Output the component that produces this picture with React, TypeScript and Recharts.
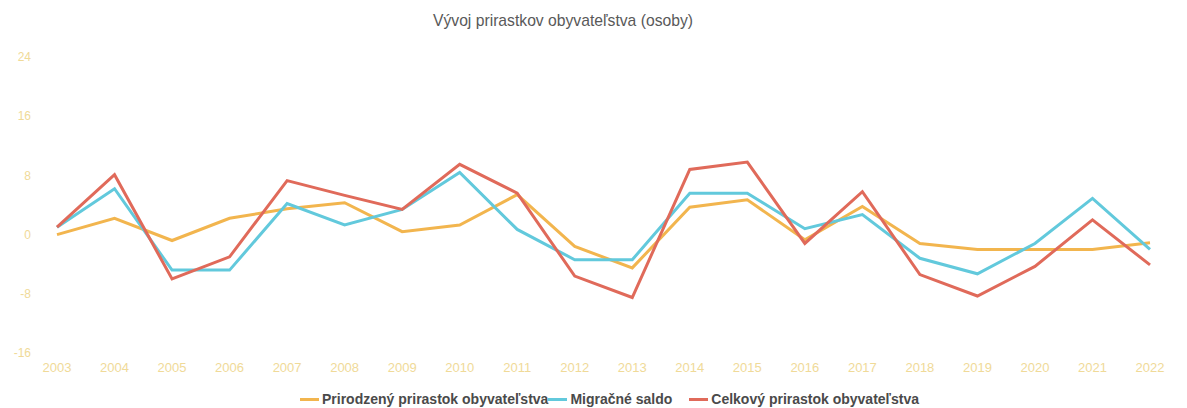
import React from 'react';
import { LineChart, Line, XAxis, YAxis } from 'recharts';

const years = [
  '2003', '2004', '2005', '2006', '2007', '2008', '2009', '2010', '2011', '2012',
  '2013', '2014', '2015', '2016', '2017', '2018', '2019', '2020', '2021', '2022'
];

const natural = [0, 2.2, -0.8, 2.2, 3.5, 4.3, 0.4, 1.3, 5.4, -1.6, -4.5, 3.7, 4.7, -0.7, 3.8, -1.2, -2.0, -2.0, -2.0, -1.1];
const migration = [1.0, 6.2, -4.8, -4.8, 4.2, 1.3, 3.4, 8.4, 0.7, -3.4, -3.4, 5.6, 5.6, 0.8, 2.7, -3.2, -5.3, -1.2, 4.9, -2.0];
const total = [1.0, 8.1, -6.0, -3.0, 7.3, 5.3, 3.4, 9.5, 5.6, -5.6, -8.5, 8.8, 9.8, -1.2, 5.8, -5.4, -8.3, -4.3, 2.0, -4.1];

const yTicks = [-16, -8, 0, 8, 16, 24];

const series = [
  { key: 'natural', name: 'Prirodzený prirastok obyvateľstva', color: '#f2b54e' },
  { key: 'migration', name: 'Migračné saldo', color: '#62c9dc' },
  { key: 'total', name: 'Celkový prirastok obyvateľstva', color: '#e06a5a' }
];

const data = years.map((year, i) => ({
  year,
  natural: natural[i],
  migration: migration[i],
  total: total[i]
}));

const font = '"Liberation Sans", Arial, sans-serif';

export default function App() {
  return (
    <div style={{ position: 'absolute', left: 0, top: 0, width: 1187, height: 408, background: '#fff', fontFamily: font }}>
      <div style={{ position: 'absolute', top: 12, left: 422, width: 282, textAlign: 'center', fontSize: 15.7, color: '#595959', whiteSpace: 'nowrap' }}>
        Vývoj prirastkov obyvateľstva (osoby)
      </div>
      <LineChart width={1187} height={408} data={data} margin={{ top: 57, right: 37, bottom: 35, left: 0 }}>
        <XAxis
          dataKey="year"
          axisLine={false}
          tickLine={false}
          tickMargin={4}
          interval={0}
          height={20}
          tick={{ fontSize: 13, fill: '#f0da98', fontFamily: font }}
        />
        <YAxis
          domain={[-16, 24]}
          ticks={yTicks}
          axisLine={false}
          tickLine={false}
          tickMargin={20}
          width={57}
          tick={{ fontSize: 12, fill: '#f0da98', fontFamily: font }}
        />
        {series.map(s => (
          <Line
            key={s.key}
            type="linear"
            dataKey={s.key}
            name={s.name}
            stroke={s.color}
            strokeWidth={3}
            dot={false}
            activeDot={false}
            isAnimationActive={false}
          />
        ))}
      </LineChart>
      <div style={{ position: 'absolute', top: 391, left: 300, display: 'flex', alignItems: 'center', fontSize: 14, fontWeight: 600, color: '#4a4a4a', whiteSpace: 'nowrap' }}>
        {series.map((s, i) => (
          <div key={s.key} style={{ display: 'flex', alignItems: 'center', marginRight: i === 1 ? 17 : 0 }}>
            <span style={{ display: 'inline-block', width: 19, height: 3, background: s.color, marginRight: 3 }} />
            <span>{s.name}</span>
          </div>
        ))}
      </div>
    </div>
  );
}
